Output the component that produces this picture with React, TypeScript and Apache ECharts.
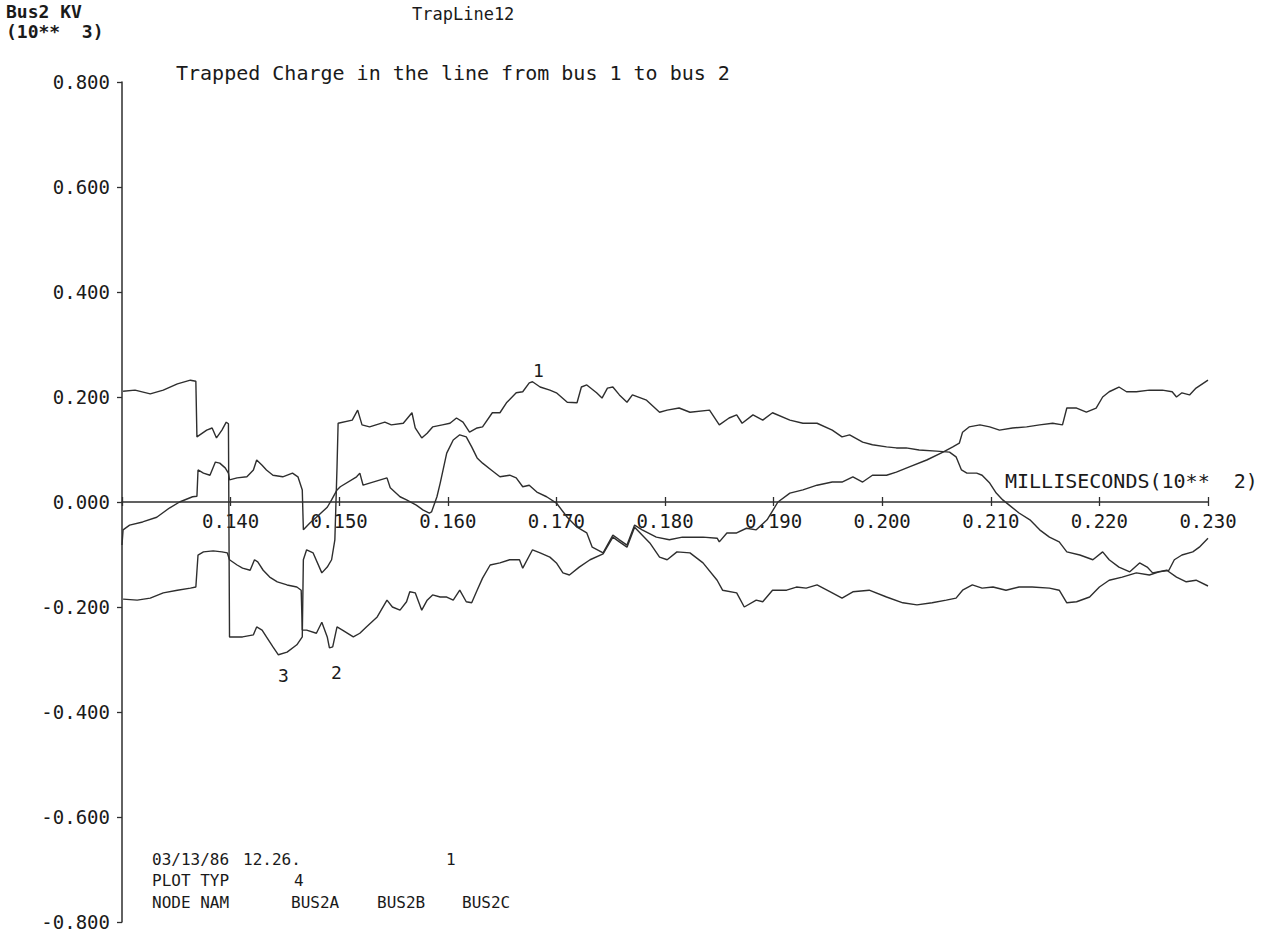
import React, { useEffect, useRef } from "react";
import * as echarts from "echarts";

// time in milliseconds, voltage in kV (axes show ms/100 and kV/1000 as in the plot)
const BUS2A: [number, number][] = [
  [13.01,211],[13.12,213],[13.26,206],[13.38,213],[13.51,225],[13.63,232],[13.68,230],[13.69,124],[13.78,137],[13.83,141],[13.87,122],[13.92,137],[13.96,152],[13.98,149],[13.99,-257],[14.11,-257],[14.21,-253],[14.24,-238],[14.29,-244],[14.33,-257],[14.39,-276],[14.44,-291],[14.52,-286],[14.61,-272],[14.66,-257],[14.67,-110],[14.70,-91],[14.76,-97],[14.84,-135],[14.89,-124],[14.93,-110],[14.96,-72],[14.98,67],[14.99,150],[15.12,156],[15.17,175],[15.21,147],[15.28,143],[15.42,152],[15.48,147],[15.59,150],[15.67,170],[15.70,141],[15.76,122],[15.81,131],[15.86,143],[15.95,147],[16.02,150],[16.08,160],[16.14,152],[16.20,133],[16.27,141],[16.32,143],[16.41,170],[16.48,170],[16.54,189],[16.63,208],[16.69,210],[16.75,227],[16.78,229],[16.85,219],[16.94,213],[17.00,208],[17.10,190],[17.19,189],[17.23,219],[17.28,223],[17.37,208],[17.42,198],[17.47,217],[17.52,219],[17.58,204],[17.65,190],[17.70,204],[17.83,194],[17.95,171],[18.02,175],[18.13,179],[18.23,171],[18.41,175],[18.50,147],[18.59,160],[18.66,166],[18.71,150],[18.81,166],[18.90,156],[18.99,170],[19.15,156],[19.27,150],[19.40,150],[19.54,137],[19.63,124],[19.70,128],[19.82,114],[19.91,109],[20.04,105],[20.13,103],[20.22,103],[20.34,99],[20.50,97],[20.62,95],[20.68,86],[20.73,61],[20.78,55],[20.87,55],[20.92,51],[20.99,36],[21.05,17],[21.11,4],[21.17,-6],[21.26,-21],[21.36,-34],[21.45,-53],[21.54,-67],[21.63,-76],[21.70,-95],[21.82,-101],[21.94,-110],[22.03,-95],[22.09,-110],[22.18,-124],[22.28,-133],[22.37,-116],[22.44,-124],[22.49,-135],[22.62,-130],[22.71,-143],[22.80,-152],[22.89,-149],[23.00,-160]
];

const BUS2B: [number, number][] = [
  [13.00,-82],[13.01,-53],[13.07,-44],[13.19,-38],[13.32,-29],[13.44,-11],[13.53,0],[13.65,10],[13.69,11],[13.70,61],[13.75,55],[13.81,51],[13.86,76],[13.90,74],[13.95,65],[13.98,55],[13.99,42],[14.06,46],[14.15,48],[14.21,61],[14.24,80],[14.29,70],[14.33,61],[14.39,51],[14.48,48],[14.57,55],[14.62,48],[14.66,23],[14.67,-53],[14.73,-40],[14.79,-29],[14.89,-10],[14.93,4],[14.98,23],[15.01,29],[15.16,48],[15.19,55],[15.22,32],[15.28,36],[15.44,46],[15.47,27],[15.56,10],[15.62,4],[15.71,-6],[15.77,-15],[15.83,-21],[15.85,-19],[15.90,10],[15.93,36],[15.99,93],[16.05,118],[16.11,128],[16.17,124],[16.22,105],[16.27,84],[16.32,74],[16.40,61],[16.48,48],[16.57,51],[16.63,46],[16.69,29],[16.75,32],[16.82,19],[16.91,10],[17.00,-2],[17.10,-29],[17.19,-48],[17.28,-59],[17.33,-86],[17.43,-97],[17.52,-63],[17.58,-72],[17.65,-82],[17.72,-44],[17.79,-53],[17.92,-67],[18.04,-72],[18.16,-67],[18.35,-67],[18.48,-69],[18.50,-76],[18.57,-59],[18.66,-59],[18.75,-50],[18.84,-53],[18.94,-34],[19.04,0],[19.15,17],[19.27,23],[19.40,32],[19.54,38],[19.63,38],[19.73,48],[19.82,38],[19.91,51],[20.04,51],[20.13,57],[20.25,67],[20.41,80],[20.56,95],[20.65,105],[20.71,112],[20.74,133],[20.80,143],[20.90,147],[20.99,143],[21.08,137],[21.20,141],[21.33,143],[21.45,147],[21.57,150],[21.66,147],[21.70,179],[21.79,179],[21.88,171],[21.97,179],[22.03,200],[22.09,210],[22.18,219],[22.25,210],[22.34,210],[22.46,213],[22.58,213],[22.67,210],[22.71,200],[22.76,208],[22.83,204],[22.89,217],[23.00,232]
];

const BUS2C: [number, number][] = [
  [13.01,-185],[13.14,-187],[13.26,-183],[13.38,-173],[13.51,-168],[13.63,-164],[13.68,-162],[13.70,-101],[13.75,-95],[13.84,-93],[13.92,-95],[13.97,-97],[13.99,-110],[14.06,-120],[14.11,-126],[14.18,-130],[14.22,-110],[14.25,-114],[14.30,-130],[14.36,-143],[14.43,-152],[14.52,-158],[14.61,-162],[14.65,-168],[14.66,-244],[14.70,-244],[14.79,-250],[14.84,-229],[14.89,-257],[14.91,-278],[14.94,-276],[14.98,-238],[15.03,-244],[15.13,-257],[15.19,-250],[15.25,-238],[15.35,-219],[15.44,-187],[15.49,-200],[15.56,-206],[15.62,-190],[15.65,-171],[15.70,-173],[15.76,-206],[15.81,-187],[15.86,-177],[15.93,-181],[15.99,-181],[16.05,-187],[16.11,-168],[16.17,-190],[16.22,-192],[16.27,-168],[16.32,-145],[16.39,-120],[16.48,-116],[16.57,-110],[16.66,-110],[16.69,-126],[16.78,-91],[16.85,-97],[16.94,-105],[17.00,-116],[17.06,-135],[17.12,-139],[17.21,-124],[17.31,-110],[17.43,-99],[17.52,-67],[17.58,-76],[17.65,-86],[17.72,-48],[17.86,-78],[17.95,-105],[18.02,-110],[18.11,-95],[18.23,-97],[18.35,-116],[18.48,-149],[18.53,-168],[18.66,-173],[18.73,-200],[18.84,-187],[18.90,-190],[18.99,-168],[19.12,-168],[19.21,-162],[19.30,-164],[19.40,-158],[19.54,-173],[19.63,-183],[19.73,-171],[19.88,-168],[20.04,-181],[20.19,-192],[20.32,-196],[20.46,-192],[20.59,-187],[20.68,-183],[20.74,-168],[20.83,-158],[20.92,-164],[21.02,-162],[21.14,-168],[21.26,-162],[21.38,-162],[21.54,-164],[21.63,-168],[21.70,-192],[21.79,-190],[21.91,-181],[22.00,-162],[22.09,-149],[22.21,-143],[22.34,-135],[22.46,-139],[22.55,-133],[22.64,-130],[22.69,-110],[22.76,-101],[22.86,-95],[22.92,-86],[23.00,-69]
];

const SERIES_NAMES = ["BUS2A", "BUS2B", "BUS2C"];
const CURVE_LABELS = ["1", "2", "3"];
const TITLE = "TrapLine12";
const SUBTITLE = "Trapped Charge in the line from bus 1 to bus 2";
const Y_NAME = ["Bus2 KV", "(10**  3)"];
const X_NAME = "MILLISECONDS(10**  2)";
const INFO_DATE = ["03/13/86", "12.26.", "1"];
const INFO_PLOT = ["PLOT TYP", "4"];
const INFO_NODE = "NODE NAM";

const T_MIN = 13;
const T_MAX = 23;
const T_STEP = 1;
const V_MIN = -800;
const V_MAX = 800;
const V_STEP = 200;

const FONT = "'DejaVu Sans Mono', monospace";
const INK = "#1a1a1a";
const LINE = "#2e2e2e";

function txt(text: string, x: number, y: number, size: number, extra: any = {}) {
  return {
    type: "text",
    x,
    y,
    silent: true,
    style: {
      text,
      fontSize: size,
      fontFamily: FONT,
      fill: INK,
      textVerticalAlign: "middle",
      verticalAlign: "middle",
      ...extra,
    },
  };
}

export default function App() {
  const ref = useRef<HTMLDivElement>(null);
  useEffect(() => {
    if (!ref.current) return;
    const chart = echarts.init(ref.current, undefined, { renderer: "svg" });
    const data = [BUS2A, BUS2B, BUS2C];
    // grid 0: full plot (-0.8..0.8); grids 1/2: upper half, whose bottom edge is the zero line
    const full = { left: 122, right: 60, top: 82, bottom: 17, containLabel: false, outerBoundsMode: "none" };
    const upper = { left: 122, right: 60, top: 82, bottom: 437, containLabel: false, outerBoundsMode: "none" };
    const tAxisBase = { type: "value", min: T_MIN, max: T_MAX, interval: T_STEP, splitLine: { show: false } };
    chart.setOption({
      animation: false,
      backgroundColor: "#ffffff",
      grid: [full, upper, upper],
      xAxis: [
        { ...tAxisBase, gridIndex: 0, show: false },
        {
          ...tAxisBase,
          gridIndex: 1,
          position: "bottom",
          axisLine: { show: true, onZero: false, lineStyle: { color: LINE, width: 1.5 } },
          axisTick: { show: true, length: 4, lineStyle: { color: LINE, width: 1.3 } },
          axisLabel: {
            margin: 9,
            fontSize: 19,
            fontFamily: FONT,
            color: INK,
            formatter: (v: number) => (v === T_MIN ? "" : (v / 100).toFixed(3)),
          },
        },
        {
          ...tAxisBase,
          gridIndex: 2,
          position: "bottom",
          axisLine: { show: false, onZero: false },
          axisTick: { show: true, inside: true, length: 5, lineStyle: { color: LINE, width: 1.3 } },
          axisLabel: { show: false },
        },
      ],
      yAxis: [
        {
          type: "value",
          gridIndex: 0,
          min: V_MIN,
          max: V_MAX,
          interval: V_STEP,
          axisLine: { show: true, onZero: false, lineStyle: { color: LINE, width: 1.5 } },
          axisTick: { show: true, length: 5, lineStyle: { color: LINE, width: 1.3 } },
          axisLabel: {
            margin: 12,
            fontSize: 19,
            fontFamily: FONT,
            color: INK,
            formatter: (v: number) => (v / 1000).toFixed(3),
          },
          splitLine: { show: false },
        },
        { type: "value", gridIndex: 1, min: 0, max: V_MAX, show: false },
        { type: "value", gridIndex: 2, min: 0, max: V_MAX, show: false },
      ],
      series: data.map((d, i) => ({
        name: SERIES_NAMES[i],
        type: "line",
        xAxisIndex: 0,
        yAxisIndex: 0,
        data: d,
        showSymbol: false,
        symbol: "none",
        lineStyle: { color: LINE, width: 1.4 },
        z: 3,
      })),
      graphic: [
        txt(Y_NAME[0], 6, 11, 18, { fontWeight: "bold" }),
        txt(Y_NAME[1], 6, 31, 18, { fontWeight: "bold" }),
        txt(TITLE, 412, 14, 17),
        txt(SUBTITLE, 176, 73, 20),
        txt(X_NAME, 1005, 481, 20),
        txt(CURVE_LABELS[0], 533, 370, 18),
        txt(CURVE_LABELS[1], 331, 672, 18),
        txt(CURVE_LABELS[2], 278, 675, 18),
        txt(INFO_DATE[0], 152, 859, 16),
        txt(INFO_DATE[1], 243, 859, 16),
        txt(INFO_DATE[2], 446, 859, 16),
        txt(INFO_PLOT[0], 152, 880, 16),
        txt(INFO_PLOT[1], 294, 880, 16),
        txt(INFO_NODE, 152, 902, 16),
        txt(SERIES_NAMES[0], 291, 902, 16),
        txt(SERIES_NAMES[1], 377, 902, 16),
        txt(SERIES_NAMES[2], 462, 902, 16),
      ],
    });
    return () => chart.dispose();
  }, []);
  return (
    <div
      ref={ref}
      style={{ position: "absolute", left: 0, top: 0, width: 1268, height: 939, background: "#fff" }}
    />
  );
}
